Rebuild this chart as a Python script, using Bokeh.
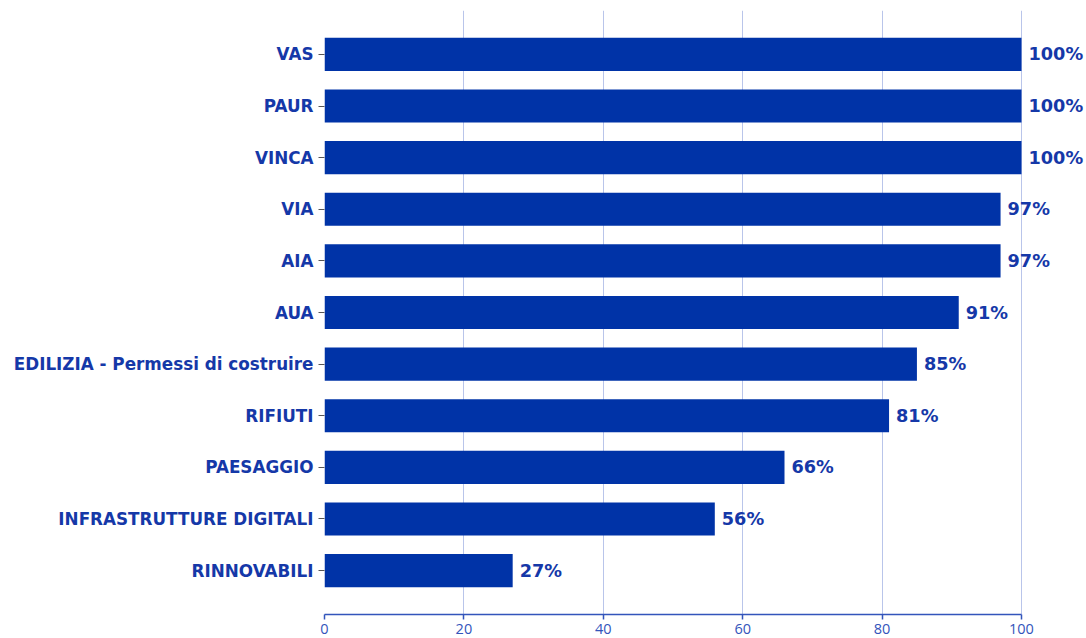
from bokeh.plotting import figure
from bokeh.models import ColumnDataSource, Range1d, FixedTicker, LabelSet
from bokeh.core.properties import value
from bokeh.embed import file_html
from bokeh.resources import INLINE

categories = ["RINNOVABILI", "INFRASTRUTTURE DIGITALI", "PAESAGGIO", "RIFIUTI",
              "EDILIZIA - Permessi di costruire", "AUA", "AIA", "VIA", "VINCA", "PAUR", "VAS"]
values = [27, 56, 66, 81, 85, 91, 97, 97, 100, 100, 100]
labels = [f"{v}%" for v in values]
positions = list(range(len(categories)))
xticks = [0, 20, 40, 60, 80, 100]

BAR = "#0033a7"
TXT = "#1538a8"
AX = "#3355bb"

src = ColumnDataSource(dict(y=positions, v=values, lab=labels))

p = figure(width=1086, height=638, output_backend="svg", toolbar_location=None,
           x_range=Range1d(0, 109.33), y_range=Range1d(-0.85, len(categories) - 0.15),
           min_border_left=324, min_border_right=0, min_border_top=10, min_border_bottom=24)
p.outline_line_color = None

p.hbar(y="y", right="v", left=0, height=0.64, source=src, color=BAR, line_color=None)

lbl = LabelSet(x="v", y="y", text="lab", source=src, x_offset=7, text_baseline="middle",
               text_color=TXT, text_font=value("DejaVu Sans"), text_font_style="bold",
               text_font_size="17.7px")
p.add_layout(lbl)

p.yaxis.ticker = FixedTicker(ticks=positions)
p.yaxis.major_label_overrides = {i: c for i, c in zip(positions, categories)}
p.yaxis.major_label_text_font = "DejaVu Sans"
p.yaxis.major_label_text_font_style = "bold"
p.yaxis.major_label_text_font_size = "16.8px"
p.yaxis.major_label_text_color = TXT
p.yaxis.axis_line_color = None
p.yaxis.major_tick_line_color = "#555555"
p.yaxis.major_tick_out = 6
p.yaxis.major_tick_in = 0
p.yaxis.minor_tick_line_color = None
p.yaxis.major_label_standoff = 5

p.xaxis.ticker = FixedTicker(ticks=xticks)
p.xaxis.bounds = (0, 100)
p.xaxis.axis_line_color = AX
p.xaxis.axis_line_width = 1.5
p.xaxis.major_tick_line_color = AX
p.xaxis.major_tick_line_width = 1.5
p.xaxis.major_tick_out = 5
p.xaxis.major_tick_in = 0
p.xaxis.minor_tick_line_color = None
p.xaxis.major_label_text_color = AX
p.xaxis.major_label_text_font = "Open Sans"
p.xaxis.major_label_text_font_size = "14.5px"
p.xaxis.major_label_standoff = 4

p.ygrid.grid_line_color = None
p.xgrid.grid_line_color = "#b9c5ea"
p.xgrid.ticker = FixedTicker(ticks=xticks)
p.xgrid.bounds = (0, 100)

open("out.html", "w").write(file_html(p, INLINE))
